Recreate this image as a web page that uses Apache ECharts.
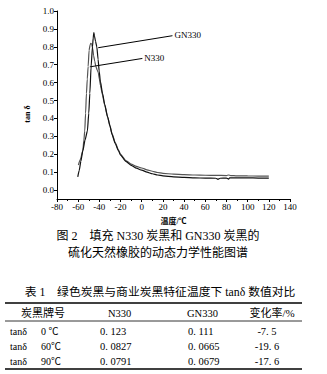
<!DOCTYPE html>
<html>
<head>
<meta charset="utf-8">
<script src="https://cdn.jsdelivr.net/npm/echarts@6/dist/echarts.min.js"></script>
<style>
html,body{margin:0;padding:0;background:#fff;}
#c{width:327px;height:374px;}
</style>
</head>
<body>
<div id="c"></div>
<script>
// ---- chart data (temperature °C, tan δ) ----
const n330Temp = [-59.8,-58,-55.6,-54.6,-53.8,-53,-52.2,-51.4,-50.6,-49.7,-48.8,-48.1,-47.2,-46.3,-45.4,-44.4,-43.3,-42,-41,-40,-39,-37,-35,-32,-30,-28,-25,-22,-20,-15,-10,-5,0,5,10,15,20,30,40,50,60,70,80,82,84,90,100,110,120];
const n330Tan  = [0.14,0.17,0.22,0.28,0.33,0.43,0.54,0.62,0.69,0.78,0.81,0.82,0.815,0.79,0.75,0.72,0.69,0.67,0.655,0.62,0.585,0.53,0.475,0.405,0.355,0.315,0.265,0.225,0.2,0.165,0.145,0.132,0.123,0.113,0.105,0.098,0.093,0.089,0.086,0.084,0.0827,0.082,0.081,0.084,0.081,0.0791,0.079,0.078,0.078];
const gn330Temp = [-60.4,-59,-57.5,-55.6,-53.5,-51.3,-50,-49,-47.8,-46.5,-45.8,-45.2,-44.6,-43.6,-42.4,-41.2,-40.2,-39,-37,-35,-32.3,-30,-28,-25,-22,-20,-15,-10,-5,0,5,10,15,20,30,40,50,60,70,72,74,80,82,83,90,100,110,120];
const gn330Tan  = [0.073,0.11,0.16,0.22,0.28,0.33,0.43,0.54,0.69,0.80,0.85,0.88,0.86,0.83,0.80,0.73,0.665,0.605,0.54,0.48,0.41,0.36,0.31,0.26,0.22,0.195,0.16,0.138,0.122,0.111,0.1,0.091,0.084,0.079,0.074,0.071,0.068,0.0665,0.066,0.06,0.066,0.067,0.061,0.068,0.0679,0.068,0.067,0.067];
// axis ticks
const xTickMin = -80, xTickMax = 140, xTickStep = 20;
const yTickValues = [0,0.1,0.2,0.3,0.4,0.5,0.6,0.7,0.8,0.9,1.0];
// annotation leader lines [startT, startTan, endT, endTan]
const gnLeader = [-41.1, 0.795, 29, 0.862];
const nLeader  = [-49, 0.688, 0.6, 0.735];
// captions
const figCaption1 = '图 2　填充 N330 炭黑和 GN330 炭黑的';
const figCaption2 = '硫化天然橡胶的动态力学性能图谱';
const tableTitle = '表 1　绿色炭黑与商业炭黑特征温度下 tanδ 数值对比';
// table data
const tableHeader = ['炭黑牌号','N330','GN330','变化率/%'];
const rowTemps = ['0 ℃','60℃','90℃'];
const tableN330 = [0.123, 0.0827, 0.0791];
const tableGN330 = [0.111, 0.0665, 0.0679];
const tableChange = [-7.5, -19.6, -17.6];

const SERIF = '"Liberation Serif","Noto Sans CJK SC",serif';
const fmt = v => String(v).replace('.', '. ');
const zip = (a,b) => a.map((v,i)=>[v,b[i]]);

const chart = echarts.init(document.getElementById('c'), null, {renderer:'svg'});

const graphics = [];
function txt(x,y,text,size,align,weight){
  graphics.push({type:'text', x:x, y:y, silent:true,
    style:{text:text, fill:'#000', font:(weight||'normal')+' '+size+'px '+SERIF, textAlign:align||'left', textVerticalAlign:'middle'}});
}
function rule(x1,x2,y,w){
  graphics.push({type:'line', silent:true, shape:{x1:x1,y1:y,x2:x2,y2:y}, style:{stroke:'#000', lineWidth:w}});
}
// y axis name
graphics.push({type:'text', x:27, y:114, rotation:Math.PI/2, silent:true,
  style:{text:'tan δ', fill:'#000', font:'bold 8px '+SERIF, textAlign:'center', textVerticalAlign:'middle'}});
// captions
txt(158,236,figCaption1,12,'center');
txt(158,253,figCaption2,12,'center');
txt(160,292,tableTitle,11.8,'center');
// table
rule(5,302,303,1.3);
rule(5,302,321,0.8);
rule(5,302,369,1.3);
const hdrY = 313, rowY = [331,346,361];
txt(43,hdrY,tableHeader[0],11,'center');
txt(108,hdrY,tableHeader[1],10.5,'left');
txt(187,hdrY,tableHeader[2],10.5,'left');
txt(272,hdrY,tableHeader[3],11,'center');
rowY.forEach((y,i)=>{
  txt(10,y,'tanδ',10,'left');
  txt(41,y,rowTemps[i],10,'left');
  txt(100,y,fmt(tableN330[i]),10.5,'left');
  txt(188,y,fmt(tableGN330[i]),10.5,'left');
  txt(267,y,fmt(tableChange[i]),10.5,'center');
});

function leader(l, name){
  return {
    silent:true, symbol:['none','none'], animation:false,
    lineStyle:{color:'#000', width:1, type:'solid'},
    label:{show:true, position:'end', formatter:name, color:'#000', fontSize:9, fontFamily:SERIF, distance:2},
    emphasis:{disabled:true},
    data:[[{coord:[l[0],l[1]]},{coord:[l[2],l[3]]}]]
  };
}

chart.setOption({
  animation:false,
  backgroundColor:'#fff',
  grid:{left:57, right:37, top:11, bottom:175, containLabel:false},
  xAxis:{
    type:'value', min:xTickMin, max:xTickMax, interval:xTickStep,
    name:'温度/℃', nameLocation:'middle', nameGap:18,
    nameTextStyle:{color:'#000', fontSize:8, fontWeight:'bold', fontFamily:SERIF},
    axisLine:{show:true, onZero:false, lineStyle:{color:'#000', width:1}},
    axisTick:{show:true, inside:false, length:3, lineStyle:{color:'#000'}},
    minorTick:{show:true, splitNumber:2, length:2, lineStyle:{color:'#000'}},
    splitLine:{show:false},
    axisLabel:{color:'#000', fontSize:9, fontFamily:SERIF, margin:3}
  },
  yAxis:{
    type:'value', min:-0.05, max:1.0,
    axisLine:{show:true, onZero:false, lineStyle:{color:'#000', width:1}},
    axisTick:{show:true, inside:false, length:3, customValues:yTickValues, lineStyle:{color:'#000'}},
    splitLine:{show:false},
    axisLabel:{color:'#000', fontSize:9, fontFamily:SERIF, margin:3, customValues:yTickValues,
      formatter:v=>v.toFixed(1)}
  },
  series:[
    {name:'N330', type:'line', data:zip(n330Temp,n330Tan), showSymbol:false, smooth:0.2, smoothMonotone:'x',
      lineStyle:{color:'#555', width:1.2}, markLine:leader(nLeader,'N330')},
    {name:'GN330', type:'line', data:zip(gn330Temp,gn330Tan), showSymbol:false, smooth:0.2, smoothMonotone:'x',
      lineStyle:{color:'#111', width:1.2}, markLine:leader(gnLeader,'GN330')}
  ],
  graphic:graphics
});
</script>
</body>
</html>
